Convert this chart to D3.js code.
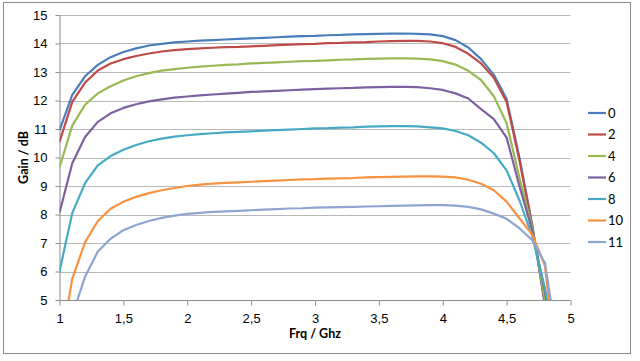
<!DOCTYPE html>
<html>
<head>
<meta charset="utf-8">
<script src="https://cdn.jsdelivr.net/npm/d3@7"></script>
<style>
  body { margin: 0; background: #fff; }
  svg { display: block; font-family: Lato, "Open Sans", sans-serif; }
</style>
</head>
<body>
<div id="chart"></div>
<script>
// Gain vs frequency, one series per setting
const freqs = [1.0, 1.1, 1.2, 1.3, 1.4, 1.5, 1.6, 1.7, 1.8, 1.9,
  2.0, 2.1, 2.2, 2.3, 2.4, 2.5, 2.6, 2.7, 2.8, 2.9,
  3.0, 3.1, 3.2, 3.3, 3.4, 3.5, 3.6, 3.7, 3.8, 3.9,
  4.0, 4.1, 4.2, 4.3, 4.4, 4.5, 4.6, 4.7, 4.8, 4.9];

const seriesNames = ['0', '2', '4', '6', '8', '10', '11'];

const gain0 = [10.95, 12.2, 12.85, 13.25, 13.52, 13.7, 13.83, 13.93, 13.99, 14.04,
  14.07, 14.1, 14.12, 14.14, 14.16, 14.18, 14.2, 14.22, 14.24, 14.26,
  14.27, 14.29, 14.3, 14.32, 14.33, 14.34, 14.35, 14.35, 14.34, 14.32,
  14.26, 14.12, 13.86, 13.45, 12.9, 12.05, 10.0, 7.65, 4.8, 2.5];
const gain2 = [10.55, 11.95, 12.63, 13.05, 13.3, 13.45, 13.56, 13.65, 13.72, 13.77,
  13.8, 13.83, 13.85, 13.87, 13.88, 13.9, 13.92, 13.94, 13.96, 13.98,
  13.99, 14.01, 14.02, 14.04, 14.05, 14.07, 14.08, 14.09, 14.09, 14.07,
  14.01, 13.88, 13.64, 13.3, 12.8, 11.95, 9.9, 7.6, 4.9, 2.5];
const gain4 = [9.65, 11.12, 11.85, 12.25, 12.5, 12.7, 12.85, 12.96, 13.05, 13.1,
  13.15, 13.19, 13.22, 13.25, 13.27, 13.3, 13.32, 13.34, 13.36, 13.38,
  13.39, 13.41, 13.43, 13.44, 13.46, 13.47, 13.48, 13.48, 13.47, 13.44,
  13.38, 13.26, 13.04, 12.72, 12.15, 11.2, 9.3, 7.55, 5.0, 2.5];
const gain6 = [8.06, 9.8, 10.72, 11.25, 11.55, 11.74, 11.87, 11.97, 12.04, 12.1,
  12.14, 12.18, 12.21, 12.24, 12.27, 12.3, 12.32, 12.34, 12.36, 12.38,
  12.4, 12.42, 12.43, 12.44, 12.46, 12.47, 12.48, 12.48, 12.47, 12.43,
  12.37, 12.25, 12.07, 11.7, 11.35, 10.7, 9.0, 7.45, 5.3, 2.5];
const gain8 = [6.0, 8.05, 9.1, 9.72, 10.05, 10.27, 10.44, 10.57, 10.66, 10.73,
  10.78, 10.82, 10.85, 10.88, 10.9, 10.92, 10.94, 10.96, 10.98, 11.0,
  11.02, 11.03, 11.05, 11.06, 11.08, 11.09, 11.1, 11.1, 11.09, 11.06,
  11.02, 10.93, 10.78, 10.52, 10.15, 9.55, 8.5, 7.25, 5.4, 3.0];
const gain10 = [3.1, 5.75, 7.02, 7.77, 8.2, 8.45, 8.62, 8.75, 8.85, 8.93,
  9.0, 9.05, 9.08, 9.11, 9.13, 9.15, 9.17, 9.19, 9.21, 9.23,
  9.24, 9.26, 9.27, 9.28, 9.3, 9.31, 9.32, 9.33, 9.34, 9.34,
  9.33, 9.3, 9.22, 9.08, 8.85, 8.45, 7.87, 7.3, 6.2, 2.2];
const gain11 = [1.5, 4.45, 5.82, 6.7, 7.15, 7.45, 7.63, 7.77, 7.88, 7.96,
  8.02, 8.06, 8.09, 8.11, 8.13, 8.15, 8.17, 8.19, 8.21, 8.22,
  8.24, 8.25, 8.26, 8.27, 8.28, 8.29, 8.3, 8.31, 8.32, 8.33,
  8.33, 8.31, 8.27, 8.18, 8.03, 7.85, 7.52, 7.1, 6.3, 3.4];

const xTicks = [1, 1.5, 2, 2.5, 3, 3.5, 4, 4.5, 5];
const yTicks = [5, 6, 7, 8, 9, 10, 11, 12, 13, 14, 15];

const colors = ['#4A7EBB', '#BE4B48', '#98B954', '#7D60A0', '#46AAC5', '#F69240', '#8EA5D2'];

const W = 640, H = 361;
const plot = { left: 59.5, right: 570.5, top: 15, bottom: 300 };

const svg = d3.select('#chart').append('svg')
  .attr('width', W)
  .attr('height', H);

// Outer chart border
svg.append('rect')
  .attr('x', 3.5).attr('y', 2.5)
  .attr('width', 627).attr('height', 351)
  .attr('fill', '#fff')
  .attr('stroke', '#8C8C8C')
  .attr('stroke-width', 1);

const x = d3.scaleLinear().domain([1, 5]).range([plot.left, plot.right]);
const y = d3.scaleLinear().domain([5, 15]).range([plot.bottom, plot.top]);

const fmt = d => String(d).replace('.', ',');

// Gridlines
svg.append('g')
  .selectAll('line')
  .data(yTicks)
  .join('line')
  .attr('x1', plot.left).attr('x2', plot.right)
  .attr('y1', d => Math.round(y(d)) + 0.5)
  .attr('y2', d => Math.round(y(d)) + 0.5)
  .attr('stroke', '#B8B8B8')
  .attr('stroke-width', 1);

// Y axis
const yAxis = svg.append('g')
  .attr('transform', `translate(${plot.left},0)`)
  .call(d3.axisLeft(y).tickValues(yTicks).tickSize(4).tickPadding(8).tickFormat(fmt));
yAxis.select('.domain').attr('stroke', '#8C8C8C').attr('d', `M0.5,${plot.top}V${plot.bottom}`);
yAxis.selectAll('.tick line').attr('stroke', '#8C8C8C');
yAxis.selectAll('.tick text').attr('font-size', 13).attr('fill', '#000');

// X axis
const xAxis = svg.append('g')
  .attr('transform', `translate(0,${plot.bottom + 0.5})`)
  .call(d3.axisBottom(x).tickValues(xTicks).tickSize(5).tickPadding(8).tickFormat(fmt));
xAxis.select('.domain').attr('stroke', '#8C8C8C').attr('d', `M${plot.left},0H${plot.right}`);
xAxis.selectAll('.tick line').attr('stroke', '#8C8C8C');
xAxis.selectAll('.tick text').attr('font-size', 13).attr('fill', '#000');

// Axis titles
svg.append('text')
  .attr('x', (plot.left + plot.right) / 2)
  .attr('y', 338)
  .attr('text-anchor', 'middle')
  .attr('font-size', 12.5)
  .attr('font-weight', 'bold')
  .text('Frq / Ghz');

svg.append('text')
  .attr('transform', `translate(28,${(plot.top + plot.bottom) / 2}) rotate(-90)`)
  .attr('text-anchor', 'middle')
  .attr('font-size', 12.5)
  .attr('font-weight', 'bold')
  .text('Gain / dB');

// Lines, clipped to the plot area
svg.append('clipPath').attr('id', 'clip')
  .append('rect')
  .attr('x', plot.left).attr('y', plot.top - 2)
  .attr('width', plot.right - plot.left)
  .attr('height', plot.bottom - plot.top + 2);

const allSeries = [gain0, gain2, gain4, gain6, gain8, gain10, gain11];

const line = d3.line()
  .x((d, i) => x(freqs[i]))
  .y(d => y(d));

svg.append('g')
  .attr('clip-path', 'url(#clip)')
  .selectAll('path')
  .data(allSeries)
  .join('path')
  .attr('d', d => line(d))
  .attr('fill', 'none')
  .attr('stroke', (d, i) => colors[i])
  .attr('stroke-width', 2.2)
  .attr('stroke-linejoin', 'round');

// Legend
const legend = svg.append('g')
  .selectAll('g')
  .data(seriesNames)
  .join('g')
  .attr('transform', (d, i) => `translate(588,${113 + i * 21.5})`);

legend.append('line')
  .attr('x1', 0).attr('x2', 18)
  .attr('stroke', (d, i) => colors[i])
  .attr('stroke-width', 2.2);

legend.append('text')
  .attr('x', 20)
  .attr('dy', '0.35em')
  .attr('font-size', 13)
  .text(d => d);
</script>
</body>
</html>
